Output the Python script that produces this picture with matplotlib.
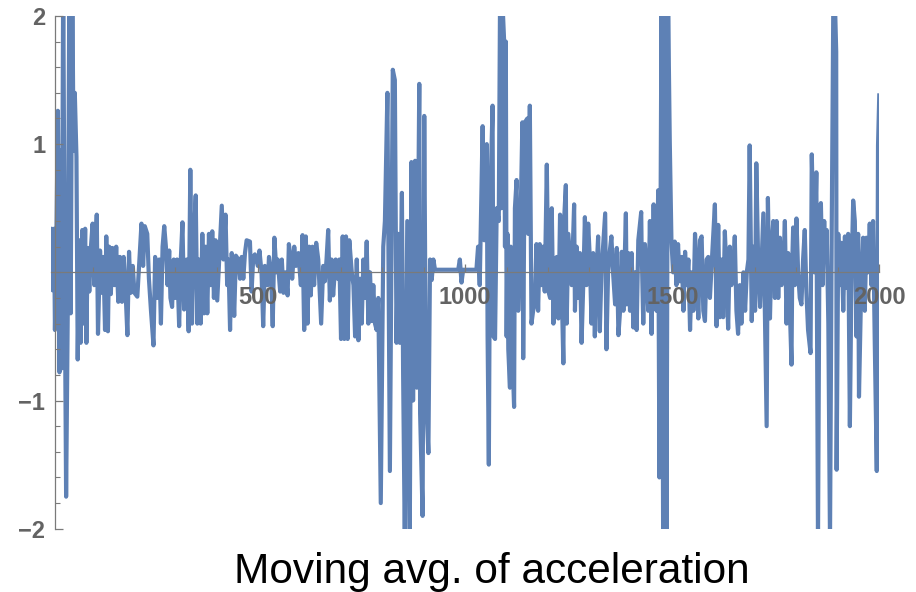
import numpy as np
import matplotlib.pyplot as plt
from matplotlib.ticker import FixedLocator, MultipleLocator

plt.rcParams['font.family'] = ['Liberation Sans', 'DejaVu Sans']
plt.rcParams['font.weight'] = 'bold'

# turning points of the moving average (sample index, value)
seg_0_400 = [
    (0, 0.22), (1, 0.34), (3, -0.14), (7, 0.34), (9, -0.45), (12, 0.1), (16, 1.26),
    (20, -0.78), (23, 0.95), (25, -0.75), (29, 2.3), (32, 0.3), (36, -1.75), (40, -0.3),
    (44, 2.4), (47, -0.32), (51, 2.2), (54, 0.95), (57, 1.4), (61, 0.9), (64, -0.68),
    (68, 0.25), (71, -0.55), (75, 0.33), (78, -0.4), (82, 0.34), (85, -0.55), (88, 0.19),
    (92, -0.15), (96, 0.2), (100, 0.38), (104, -0.1), (110, 0.45), (113, -0.48),
    (118, 0.17), (122, -0.16), (126, 0.12), (130, -0.45), (133, 0.28), (137, -0.46),
    (140, 0.2), (144, -0.17), (148, 0.19), (153, -0.1), (157, 0.2), (162, -0.23),
    (166, 0.12), (171, -0.23), (175, 0.12), (179, -0.1), (184, -0.49), (188, 0.16),
    (192, -0.16), (197, 0.05), (201, -0.16), (208, -0.19), (213, 0.1), (218, 0.38),
    (222, 0.05), (226, 0.36), (232, 0.3), (236, -0.05), (241, -0.3), (247, -0.57),
    (251, 0.12), (256, -0.2), (261, 0.1), (265, -0.4), (269, 0.2), (273, 0.36),
    (277, 0.2), (281, -0.1), (285, 0.17), (288, -0.2), (292, -0.27), (296, 0.1),
    (300, -0.2), (304, 0.1), (309, -0.42), (313, 0.1), (317, 0.39), (321, -0.29),
    (327, 0.1), (332, -0.46), (336, 0.8), (340, -0.4), (344, 0.2), (349, 0.6),
    (353, -0.4), (357, 0.1), (361, -0.4), (365, 0.3), (369, -0.32), (373, 0.2),
    (377, -0.32), (381, 0.3), (385, -0.1), (389, 0.32), (393, -0.2), (397, 0.25),
    (401, -0.22),
]

seg_400_800 = [
    (412, 0.52), (416, 0.1), (421, 0.45), (425, -0.1), (428, 0.1), (432, -0.45),
    (436, 0.15), (442, -0.34), (446, 0.13), (452, 0.1), (456, -0.05), (460, 0.12),
    (464, -0.05), (468, 0.15), (472, 0.25), (480, 0.24), (484, -0.15), (488, 0.12),
    (492, 0.14), (499, 0.05), (503, 0.17), (508, 0.0), (512, -0.42), (516, 0.05),
    (523, -0.1), (526, 0.12), (531, 0.0), (535, -0.42), (539, 0.27), (544, 0.0),
    (547, 0.1), (553, -0.15), (557, 0.1), (561, -0.16), (566, 0.0), (571, -0.18),
    (574, 0.22), (579, 0.1), (582, -0.05), (587, 0.2), (591, 0.05), (597, 0.15),
    (603, -0.1), (607, 0.29), (611, -0.45), (615, 0.28), (619, -0.4), (623, 0.2),
    (627, -0.18), (631, 0.2), (635, -0.1), (640, 0.23), (645, 0.1), (652, -0.4),
    (657, 0.05), (661, -0.07), (665, 0.1), (669, 0.33), (673, -0.22), (677, 0.1),
    (681, -0.18), (687, 0.1), (692, -0.05), (696, 0.1), (700, -0.52), (704, 0.28),
    (708, -0.52), (712, 0.28), (716, -0.52), (720, 0.25), (726, 0.0), (730, -0.1),
    (734, -0.5), (738, 0.1), (742, -0.53), (746, -0.05), (750, -0.4), (754, 0.1),
    (758, -0.2), (762, 0.24), (766, -0.4), (770, 0.0), (774, -0.38), (778, -0.1),
    (782, -0.4), (786, -0.45), (790, -0.2),
]

seg_800_1200 = [
    (796, -1.8), (802, 0.2), (806, 0.4), (812, 1.4), (818, -1.55), (825, 1.58),
    (830, 1.5), (834, -0.55), (838, 0.3), (842, -0.55), (847, 0.62), (850, -0.8),
    (854, -2.1), (860, 0.4), (866, -2.1), (870, 0.86), (874, -1.0), (879, 0.87),
    (883, -0.9), (889, 1.47), (891, -1.1), (897, -1.9), (901, 1.22), (905, -0.9),
    (907, -1.1), (911, -1.41), (915, 0.1), (919, -0.06), (923, 0.1), (927, 0.02),
    (983, 0.02), (987, 0.1), (991, -0.08), (995, 0.02), (1027, 0.02), (1031, 0.2),
    (1035, -0.1), (1042, 1.14), (1046, 0.25), (1052, 1.0), (1054, -0.5), (1057, -1.5),
    (1060, 0.5), (1066, 1.3), (1068, -0.5), (1072, -0.52), (1076, 0.5), (1081, 0.4),
    (1084, 2.1), (1087, 0.5), (1090, 2.1), (1094, 1.8), (1096, 0.2), (1098, 1.8),
    (1100, -0.5), (1102, 0.3), (1104, -0.6), (1108, -0.9), (1110, 0.2), (1112, -0.45),
    (1118, -1.05), (1120, 0.5), (1124, 0.72), (1128, -0.3), (1132, 0.1), (1138, 1.17),
    (1140, -0.67), (1144, 1.17), (1150, 1.2), (1152, 0.3), (1156, 1.3), (1160, -0.4),
    (1164, -0.3), (1168, -0.25), (1172, 0.22), (1176, -0.3), (1180, 0.22),
    (1184, -0.1), (1188, 0.2), (1192, -0.15), (1197, 0.84), (1201, -0.15),
]

seg_1200_1600 = [
    (1205, -0.2), (1209, 0.5), (1213, -0.4), (1217, 0.1), (1221, 0.12), (1225, -0.36),
    (1229, 0.45), (1237, -0.71), (1239, 0.42), (1243, 0.68), (1245, -0.4), (1249, 0.3),
    (1257, -0.1), (1263, 0.53), (1265, -0.3), (1269, 0.2), (1273, -0.2), (1277, 0.15),
    (1281, -0.55), (1285, -0.1), (1289, 0.43), (1293, -0.1), (1297, 0.38), (1301, 0.1),
    (1305, -0.4), (1309, 0.15), (1313, -0.5), (1317, 0.0), (1321, 0.28), (1325, -0.46),
    (1329, 0.0), (1338, 0.46), (1341, -0.6), (1345, 0.0), (1349, 0.16), (1353, 0.28),
    (1357, 0.0), (1362, -0.25), (1366, 0.19), (1370, -0.49), (1374, -0.3), (1378, 0.16),
    (1382, -0.3), (1388, 0.46), (1390, -0.25), (1394, 0.15), (1398, -0.3), (1402, 0.15),
    (1406, -0.43), (1410, 0.0), (1414, -0.45), (1418, 0.25), (1425, 0.47), (1426, 0.2),
    (1430, -0.4), (1434, 0.22), (1438, 0.0), (1442, -0.3), (1446, 0.4), (1450, -0.48),
    (1455, 0.53), (1458, 0.0), (1462, -0.3), (1466, 0.64), (1469, -1.6), (1474, 2.1),
    (1478, -2.1), (1482, 2.1), (1486, -2.1), (1490, 2.1), (1494, 1.02), (1498, 0.25),
    (1502, 0.0), (1506, 0.24), (1510, -0.1), (1514, 0.22), (1518, -0.07), (1523, 0.12),
    (1527, -0.3), (1531, 0.16), (1535, -0.1), (1539, 0.1), (1543, -0.45), (1547, 0.0),
    (1551, -0.3), (1555, 0.3), (1559, 0.0), (1563, -0.36), (1567, 0.25), (1571, 0.28),
    (1575, -0.3), (1579, -0.38), (1583, 0.1), (1587, 0.12), (1591, -0.2), (1595, 0.05),
]

seg_1600_2000 = [
    (1603, 0.53), (1607, -0.42), (1611, 0.37), (1615, -0.35), (1619, 0.1),
    (1623, -0.35), (1627, 0.32), (1631, 0.0), (1635, -0.44), (1639, 0.2), (1643, -0.1),
    (1647, 0.0), (1651, 0.28), (1655, -0.3), (1659, -0.48), (1663, -0.1), (1667, -0.4),
    (1672, 0.0), (1676, -0.3), (1680, 0.0), (1684, 0.1), (1687, 0.99), (1692, -0.38),
    (1696, 0.2), (1700, -0.3), (1703, 0.85), (1708, 0.0), (1712, -0.27), (1716, 0.1),
    (1720, 0.46), (1724, -0.36), (1728, -1.2), (1731, 0.58), (1736, -0.36), (1740, 0.2),
    (1744, 0.4), (1748, -0.2), (1752, 0.4), (1756, -0.2), (1760, 0.27), (1764, -0.1),
    (1768, 0.0), (1772, 0.4), (1776, -0.4), (1780, 0.15), (1788, -0.72), (1790, 0.1),
    (1792, 0.35), (1796, -0.1), (1800, 0.42), (1804, 0.0), (1808, -0.2), (1812, -0.25),
    (1816, 0.1), (1820, 0.33), (1824, -0.15), (1828, -0.45), (1834, -0.63),
    (1837, 0.92), (1843, 0.0), (1848, 0.78), (1852, -2.1), (1856, 0.5), (1859, 0.54),
    (1863, -0.1), (1867, 0.4), (1870, 0.1), (1873, 0.33), (1877, -0.4), (1881, -2.1),
    (1885, 0.25), (1889, 2.1), (1893, 2.1), (1896, 1.72), (1897, -1.54), (1901, 0.3),
    (1905, -0.1), (1909, 0.23), (1913, -0.3), (1917, 0.28), (1921, -0.12), (1925, 0.3),
    (1929, -1.2), (1933, 0.0), (1937, 0.56), (1941, 0.4), (1945, -0.5), (1949, 0.3),
    (1951, -0.97), (1957, 0.0), (1961, 0.27), (1965, -0.3), (1969, 0.27), (1973, 0.0),
    (1977, 0.38), (1981, -0.1), (1985, 0.4), (1989, -0.52), (1994, -1.55),
    (1997, 0.99), (2000, 1.38),
]

points = seg_0_400 + seg_400_800 + seg_800_1200 + seg_1200_1600 + seg_1600_2000
t = np.array([p[0] for p in points])
acc = np.array([p[1] for p in points])

x_major = [500, 1000, 1500, 2000]
x_minor = list(range(100, 2000, 100))
y_major = [-2, -1, 1, 2]
title = "Moving avg. of acceleration"

fig = plt.figure(figsize=(9.16, 5.92), dpi=100)
ax = fig.add_axes([0.0559, 0.1069, 0.904, 0.8662])

ax.plot(t, acc, color='#5E81B5', lw=3.0)

ax.set_xlim(0, 2000)
ax.set_ylim(-2, 2)

for s in ['top', 'right']:
    ax.spines[s].set_visible(False)
ax.spines['left'].set_position(('data', 9))
ax.spines['bottom'].set_position(('data', 0))
for s in ['left', 'bottom']:
    ax.spines[s].set_color('#7a7a7a')
    ax.spines[s].set_linewidth(0.9)
ax.set_axisbelow(False)

ax.set_xticks(x_major)
ax.xaxis.set_minor_locator(FixedLocator(x_minor))
ax.set_yticks(y_major)
ax.yaxis.set_minor_locator(MultipleLocator(0.2))

ax.tick_params(which='both', direction='in', color='#7a7a7a', labelcolor='#636363',
               labelsize=17)
ax.tick_params(which='major', length=6, width=0.9)
ax.tick_params(which='minor', length=3.5, width=0.8)
ax.tick_params(axis='x', pad=10)
ax.tick_params(axis='y', pad=7)

fig.text(0.5366, 0.0152, title, ha='center', va='baseline', fontsize=30.5,
         fontweight='normal', color='black')

fig.savefig('out.png', dpi=100)
